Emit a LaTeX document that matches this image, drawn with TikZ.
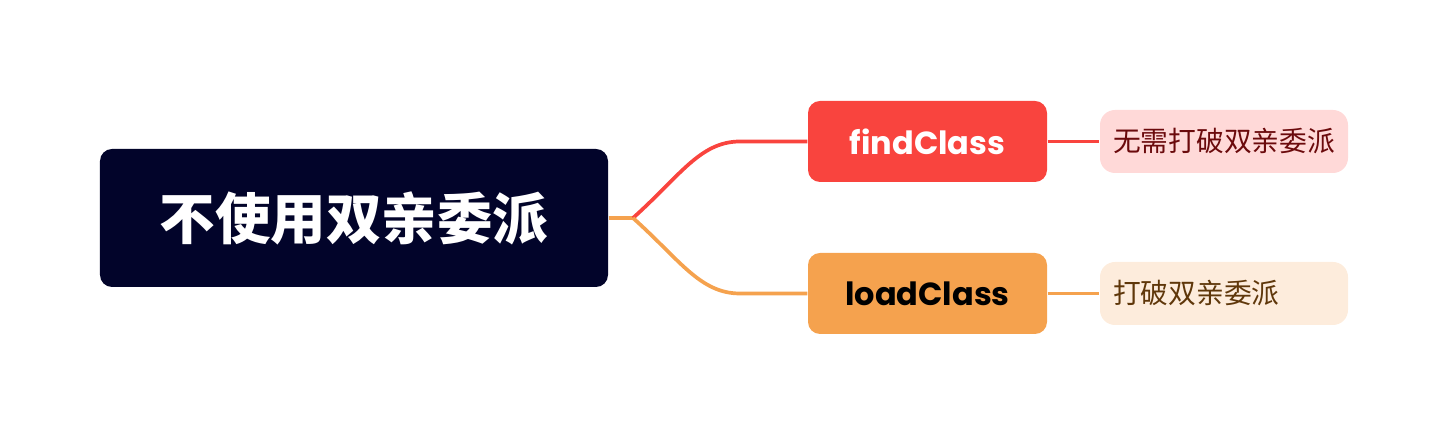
\documentclass[tikz,border=0pt]{standalone}
\usepackage{fontspec}
\setmainfont{Poppins}
\newfontfamily\cjk{Noto Sans CJK SC}
\usetikzlibrary{positioning}

\definecolor{rootblue}{RGB}{2,4,42}
\definecolor{findred}{RGB}{249,68,62}
\definecolor{loadorange}{RGB}{245,162,78}
\definecolor{findpale}{RGB}{255,217,216}
\definecolor{loadpale}{RGB}{253,236,220}
\definecolor{findtext}{RGB}{107,10,12}
\definecolor{loadtext}{RGB}{95,55,10}

\begin{document}
\begin{tikzpicture}[
		every node/.style={rounded corners=0.12cm, inner sep=0pt},
		mainbox/.style={minimum width=2.39cm, minimum height=0.81cm, font=\bfseries\fontsize{9.1}{11}\selectfont},
		notebox/.style={rounded corners=0.15cm, minimum height=0.63cm, text width=2.22cm, inner sep=0.13cm, align=left, font=\cjk\fontsize{7.9}{9}\selectfont},
		branch/.style={line width=1.05pt}
	]
  \useasboundingbox (0,0) rectangle (14.48,4.36);
  \node (root) [fill=rootblue, text=white, minimum width=5.08cm, minimum height=1.38cm, font=\cjk\bfseries\fontsize{15.8}{18}\selectfont] at (3.54, 2.18) {不使用双亲委派};
  \node (find) [mainbox, fill=findred, text=white] at (9.275, 2.945) {findClass};
  \node (load) [mainbox, fill=loadorange, text=black] at (9.275, 1.425) {loadClass};
  \node (findnote) [notebox, fill=findpale, text=findtext] at (12.24, 2.945) {无需打破双亲委派};
  \node (loadnote) [notebox, fill=loadpale, text=loadtext] at (12.24, 1.425) {打破双亲委派};
  \coordinate (fork) at (6.33, 2.18);
  \coordinate (findbend) at (7.4, 2.945);
  \coordinate (loadbend) at (7.4, 1.425);
  \draw[branch, loadorange] (root.east) -- (fork);
  \draw[branch, findred] (fork) .. controls (6.8, 2.6) and (7.0, 2.945) .. (findbend) -- (find.west);
  \draw[branch, loadorange] (fork) .. controls (6.8, 1.76) and (7.0, 1.425) .. (loadbend) -- (load.west);
  \draw[branch, findred] (find) -- (findnote);
  \draw[branch, loadorange] (load) -- (loadnote);
\end{tikzpicture}
\end{document}
